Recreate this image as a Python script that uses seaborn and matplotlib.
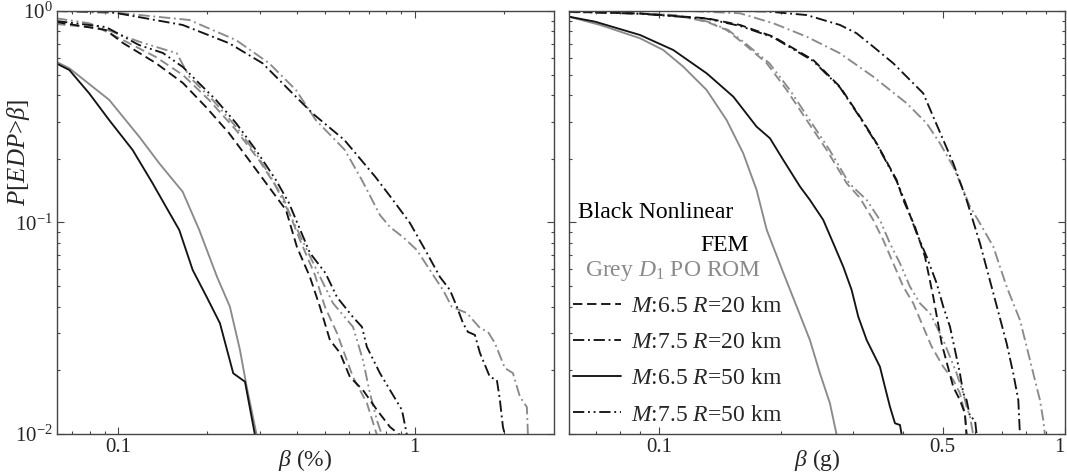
import matplotlib
matplotlib.use("Agg")
import matplotlib.pyplot as plt
import seaborn as sns
from matplotlib.lines import Line2D
from matplotlib.ticker import LogLocator, NullFormatter, FixedLocator, FixedFormatter

# ---------------- data: left panel, beta in % ----------------
L_M65R20_FEM_x = [0.0617, 0.0909, 0.1037, 0.1340, 0.1653, 0.1976, 0.2362, 0.2760, 0.3223, 0.3679, 0.4006, 0.4431, 0.4790, 0.5176, 0.5595, 0.6045, 0.6687, 0.7456, 0.8249, 0.8915]
L_M65R20_FEM_y = [0.887, 0.813, 0.706, 0.567, 0.4565, 0.3516, 0.265, 0.1975, 0.1472, 0.1146, 0.0766, 0.0553, 0.0399, 0.0278, 0.0242, 0.0186, 0.01614, 0.0130, 0.0108, 0.0099]
L_M65R20_ROM_x = [0.0617, 0.0861, 0.1037, 0.1340, 0.1653, 0.2023, 0.2495, 0.2982, 0.3593, 0.4101, 0.4606, 0.4980, 0.5467, 0.6191, 0.6898, 0.7456]
L_M65R20_ROM_y = [0.868, 0.831, 0.729, 0.606, 0.498, 0.380, 0.2738, 0.1975, 0.132, 0.0827, 0.0565, 0.0399, 0.0300, 0.0186, 0.0140, 0.0099]
L_M75R20_FEM_x = [0.0617, 0.0932, 0.1649, 0.2367, 0.3069, 0.3773, 0.4523, 0.5790, 0.7358, 0.8443, 0.9634, 1.099, 1.216, 1.314, 1.388, 1.454, 1.511, 1.596, 1.659, 1.793, 1.893, 1.938, 1.984, 2.015]
L_M75R20_FEM_y = [1.0, 0.992, 0.859, 0.704, 0.566, 0.423, 0.328, 0.2456, 0.1646, 0.1278, 0.0995, 0.0718, 0.0553, 0.048, 0.0399, 0.0335, 0.0304, 0.0294, 0.0242, 0.0186, 0.0180, 0.01448, 0.0108, 0.0099]
L_M75R20_ROM_x = [0.0617, 0.1035, 0.1736, 0.2495, 0.3230, 0.3975, 0.4639, 0.5811, 0.6632, 0.7631, 0.8249, 0.9125, 1.017, 1.125, 1.245, 1.335, 1.500, 1.659, 1.766, 1.864, 2.015, 2.144, 2.264, 2.390, 2.409]
L_M75R20_ROM_y = [1.0, 0.975, 0.907, 0.729, 0.566, 0.423, 0.305, 0.2203, 0.1589, 0.1085, 0.0952, 0.0854, 0.0741, 0.0596, 0.048, 0.0399, 0.0373, 0.0317, 0.0304, 0.0269, 0.0205, 0.0194, 0.0150, 0.0134, 0.0099]
L_M65R50_FEM_x = [0.0617, 0.0684, 0.0798, 0.0932, 0.1118, 0.1306, 0.1448, 0.1606, 0.1783, 0.1985, 0.2203, 0.2443, 0.2676, 0.2891]
L_M65R50_FEM_y = [0.566, 0.526, 0.408, 0.305, 0.2203, 0.1532, 0.1188, 0.0922, 0.0596, 0.0446, 0.0334, 0.01936, 0.01767, 0.0099]
L_M65R50_ROM_x = [0.0617, 0.0684, 0.0932, 0.1177, 0.1375, 0.1649, 0.1876, 0.2153, 0.2380, 0.2573, 0.2711, 0.2930]
L_M65R50_ROM_y = [0.576, 0.536, 0.380, 0.2544, 0.1905, 0.1398, 0.0922, 0.0554, 0.0400, 0.0250, 0.01674, 0.0099]
L_M75R50_FEM_x = [0.0617, 0.0909, 0.1174, 0.1415, 0.1653, 0.1871, 0.2135, 0.2495, 0.2912, 0.3402, 0.3764, 0.4431, 0.4998, 0.5467, 0.6191, 0.6637, 0.6898, 0.7631, 0.8443, 0.9054, 0.9412]
L_M75R50_FEM_y = [0.897, 0.840, 0.691, 0.633, 0.543, 0.4565, 0.380, 0.2954, 0.2203, 0.1589, 0.1237, 0.0718, 0.0577, 0.0444, 0.0357, 0.0321, 0.0258, 0.0194, 0.0153, 0.0130, 0.0099]
L_M75R50_ROM_x = [0.0617, 0.0798, 0.1177, 0.1576, 0.1736, 0.2082, 0.2495, 0.2912, 0.3317, 0.3975, 0.4329, 0.5297, 0.6191, 0.6687, 0.7062, 0.7456, 0.7750]
L_M75R50_ROM_y = [0.924, 0.875, 0.716, 0.631, 0.489, 0.380, 0.2838, 0.2124, 0.1589, 0.0955, 0.0741, 0.0416, 0.0321, 0.0224, 0.0156, 0.0116, 0.0099]

# ---------------- data: right panel, beta in g ----------------
R_M65R20_FEM_x = [0.0600, 0.0898, 0.1310, 0.1583, 0.1912, 0.2398, 0.2790, 0.3125, 0.3436, 0.3848, 0.3996, 0.4270, 0.4519, 0.4736, 0.4968, 0.5306, 0.5509, 0.5667, 0.5722]
R_M65R20_FEM_y = [0.995, 0.973, 0.924, 0.859, 0.756, 0.5866, 0.4385, 0.3164, 0.2368, 0.1589, 0.1278, 0.0955, 0.0689, 0.0446, 0.0268, 0.0167, 0.01448, 0.01253, 0.0099]
R_M75R50_FEM_x = [0.0600, 0.0898, 0.1310, 0.1583, 0.1912, 0.2398, 0.2790, 0.3125, 0.3436, 0.3848, 0.4040, 0.4311, 0.4563, 0.4829, 0.5013, 0.5207, 0.5356, 0.5509, 0.5616, 0.5722, 0.5834, 0.6002, 0.6060]
R_M75R50_FEM_y = [0.995, 0.970, 0.920, 0.850, 0.750, 0.580, 0.435, 0.314, 0.235, 0.157, 0.125, 0.0889, 0.0689, 0.0516, 0.0400, 0.0322, 0.0250, 0.01936, 0.01558, 0.01448, 0.01208, 0.01165, 0.0099]
R_M65R20_ROM_x = [0.0600, 0.0898, 0.1084, 0.1310, 0.1467, 0.1612, 0.1842, 0.2063, 0.2310, 0.2588, 0.2899, 0.3125, 0.3370, 0.3566, 0.3776, 0.3996, 0.4229, 0.4435, 0.4693, 0.5013, 0.5306, 0.5509, 0.5667, 0.5722]
R_M65R20_ROM_y = [0.989, 0.973, 0.957, 0.890, 0.813, 0.704, 0.566, 0.423, 0.305, 0.2203, 0.1532, 0.1306, 0.1028, 0.0827, 0.0641, 0.0497, 0.0415, 0.0334, 0.0259, 0.0208, 0.0180, 0.01558, 0.01253, 0.0099]
R_M75R50_ROM_x = [0.0600, 0.0898, 0.1090, 0.1320, 0.1480, 0.1630, 0.1870, 0.2100, 0.2350, 0.2630, 0.2940, 0.3247, 0.3500, 0.3705, 0.3922, 0.4151, 0.4392, 0.4649, 0.4829, 0.5013, 0.5207, 0.5408, 0.5616, 0.5722, 0.5834, 0.5943]
R_M75R50_ROM_y = [0.989, 0.973, 0.957, 0.890, 0.813, 0.704, 0.566, 0.423, 0.305, 0.2203, 0.1532, 0.1278, 0.1028, 0.0797, 0.0641, 0.0497, 0.0415, 0.0372, 0.0322, 0.0278, 0.0232, 0.01936, 0.01558, 0.01346, 0.01208, 0.0099]
R_M75R20_FEM_x = [0.0600, 0.1583, 0.1841, 0.2310, 0.2790, 0.3067, 0.3370, 0.3776, 0.4311, 0.4476, 0.4736, 0.5013, 0.5306, 0.5722, 0.6174, 0.6659, 0.7183, 0.7456, 0.7673, 0.7745]
R_M75R20_FEM_y = [1.0, 1.0, 0.995, 0.957, 0.859, 0.7845, 0.678, 0.566, 0.4385, 0.408, 0.3164, 0.2456, 0.1905, 0.1278, 0.0797, 0.0463, 0.0268, 0.01936, 0.01448, 0.0099]
R_M75R20_ROM_x = [0.0600, 0.1192, 0.1583, 0.1912, 0.2310, 0.2790, 0.3370, 0.4074, 0.4563, 0.4920, 0.5306, 0.5616, 0.5834, 0.6174, 0.6659, 0.6915, 0.7183, 0.7456, 0.7745, 0.8045, 0.8352, 0.8675, 0.8839, 0.8925]
R_M75R20_ROM_y = [1.0, 1.0, 0.975, 0.875, 0.756, 0.631, 0.489, 0.3662, 0.2944, 0.2368, 0.1835, 0.1424, 0.1188, 0.0991, 0.0768, 0.0618, 0.0497, 0.0415, 0.0346, 0.0259, 0.01936, 0.01448, 0.01165, 0.0099]
R_M65R50_FEM_x = [0.0600, 0.0696, 0.0898, 0.1084, 0.1310, 0.1524, 0.1739, 0.1876, 0.2023, 0.2225, 0.2353, 0.2538, 0.2687, 0.2843, 0.2981, 0.3095, 0.3247, 0.3500, 0.3601, 0.3705, 0.3812, 0.3922, 0.3960]
R_M65R50_FEM_y = [0.940, 0.890, 0.770, 0.654, 0.5074, 0.3934, 0.2838, 0.2501, 0.1975, 0.1477, 0.1278, 0.1028, 0.0797, 0.0618, 0.0480, 0.0359, 0.0278, 0.0208, 0.0167, 0.01346, 0.01124, 0.01103, 0.0099]
R_M65R50_ROM_x = [0.0600, 0.0716, 0.0898, 0.1024, 0.1147, 0.1310, 0.1467, 0.1612, 0.1739, 0.1842, 0.2020, 0.2225, 0.2353, 0.2490, 0.2636, 0.2738]
R_M65R50_ROM_y = [0.940, 0.859, 0.743, 0.654, 0.5454, 0.423, 0.305, 0.2124, 0.1424, 0.0922, 0.0583, 0.0365, 0.0278, 0.0194, 0.01397, 0.0099]

legend_labels = [r"$M$:6.5 $R$=20 km", r"$M$:7.5 $R$=20 km",
                 r"$M$:6.5 $R$=50 km", r"$M$:7.5 $R$=50 km"]
left_xticks = [0.1, 1]
left_xticklabels = ["0.1", "1"]
right_xticks = [0.1, 0.5, 1]
right_xticklabels = ["0.1", "0.5", "1"]

# ---------------- style ----------------
sns.set_style("ticks")
plt.rcParams["font.family"] = ["Liberation Serif", "DejaVu Serif"]
plt.rcParams["mathtext.fontset"] = "custom"
plt.rcParams["mathtext.rm"] = "Liberation Serif"
plt.rcParams["mathtext.it"] = "Liberation Serif:italic"
plt.rcParams["mathtext.bf"] = "Liberation Serif:bold"

BLACK = "#141414"
GREY = "#8a8a8a"
SPINE = "#454545"
LW = 1.35
LS = {"M65R20": (0, (5, 2.5)),
      "M75R20": (0, (6, 2, 1, 2)),
      "M65R50": "-",
      "M75R50": (0, (6, 2, 1, 2, 1, 2))}

W, H = 1067, 473
fig = plt.figure(figsize=(W / 100, H / 100), dpi=100)
axL = fig.add_axes([56.7 / W, 39 / H, 497.3 / W, 423 / H])
axR = fig.add_axes([569 / W, 39 / H, 496 / W, 423 / H])


def draw(ax, x, y, color, ls):
    sns.lineplot(x=x, y=y, ax=ax, color=color, linestyle=ls, linewidth=LW,
                 sort=False, estimator=None, errorbar=None)


left_curves = [
    (L_M65R20_ROM_x, L_M65R20_ROM_y, GREY, LS["M65R20"]),
    (L_M75R20_ROM_x, L_M75R20_ROM_y, GREY, LS["M75R20"]),
    (L_M65R50_ROM_x, L_M65R50_ROM_y, GREY, LS["M65R50"]),
    (L_M75R50_ROM_x, L_M75R50_ROM_y, GREY, LS["M75R50"]),
    (L_M65R20_FEM_x, L_M65R20_FEM_y, BLACK, LS["M65R20"]),
    (L_M75R20_FEM_x, L_M75R20_FEM_y, BLACK, LS["M75R20"]),
    (L_M65R50_FEM_x, L_M65R50_FEM_y, BLACK, LS["M65R50"]),
    (L_M75R50_FEM_x, L_M75R50_FEM_y, BLACK, LS["M75R50"]),
]
right_curves = [
    (R_M65R20_ROM_x, R_M65R20_ROM_y, GREY, LS["M65R20"]),
    (R_M75R20_ROM_x, R_M75R20_ROM_y, GREY, LS["M75R20"]),
    (R_M65R50_ROM_x, R_M65R50_ROM_y, GREY, LS["M65R50"]),
    (R_M75R50_ROM_x, R_M75R50_ROM_y, GREY, LS["M75R50"]),
    (R_M65R20_FEM_x, R_M65R20_FEM_y, BLACK, LS["M65R20"]),
    (R_M75R20_FEM_x, R_M75R20_FEM_y, BLACK, LS["M75R20"]),
    (R_M65R50_FEM_x, R_M65R50_FEM_y, BLACK, LS["M65R50"]),
    (R_M75R50_FEM_x, R_M75R50_FEM_y, BLACK, LS["M75R50"]),
]
for c in left_curves:
    draw(axL, *c)
for c in right_curves:
    draw(axR, *c)

for ax in (axL, axR):
    ax.set_xscale("log")
    ax.set_yscale("log")
    ax.set_ylim(0.01, 1)
    ax.yaxis.set_major_locator(FixedLocator([0.01, 0.1, 1]))
    ax.yaxis.set_minor_locator(LogLocator(base=10, subs=range(2, 10)))
    ax.yaxis.set_minor_formatter(NullFormatter())
    ax.xaxis.set_minor_locator(LogLocator(base=10, subs=range(2, 10)))
    ax.xaxis.set_minor_formatter(NullFormatter())
    for s in ax.spines.values():
        s.set_color(SPINE)
        s.set_linewidth(1.0)
    ax.tick_params(which="both", direction="in", top=True, right=True,
                   color=SPINE, width=0.8, labelsize=15, pad=3)
    ax.tick_params(which="major", length=5)
    ax.tick_params(which="minor", length=2.5)
    ax.set_facecolor("white")

axL.set_xlim(0.062, 2.95)
axL.xaxis.set_major_locator(FixedLocator(left_xticks))
axL.xaxis.set_major_formatter(FixedFormatter(left_xticklabels))
axL.yaxis.set_major_formatter(FixedFormatter([r"$10^{-2}$", r"$10^{-1}$", r"$10^{0}$"]))

axR.set_xlim(0.06, 1)
axR.xaxis.set_major_locator(FixedLocator(right_xticks))
axR.xaxis.set_major_formatter(FixedFormatter(right_xticklabels))
axR.tick_params(axis="y", labelleft=False)
# keep the last label ("1") inside the figure edge
fig.canvas.draw()
axR.get_xticklabels()[-1].set_horizontalalignment("right")

axL.set_xlabel(r"$\beta$ (%)", fontsize=17)
axL.xaxis.set_label_coords(0.5, -0.03)
axR.set_xlabel(r"$\beta$ (g)", fontsize=17)
axR.xaxis.set_label_coords(0.5, -0.03)
axL.set_ylabel(r"$P$[$EDP$>$\beta$]", fontsize=18)
axL.yaxis.set_label_coords(-0.05, 0.667)
axR.set_ylabel("")

# legend-like annotations in right panel
axR.text(0.018, 0.523, "Black Nonlinear", transform=axR.transAxes,
         fontsize=17, ha="left", va="center", color="black")
axR.text(0.363, 0.445, "FEM", transform=axR.transAxes,
         fontsize=17, ha="right", va="center", color="black")
axR.text(0.032, 0.386, r"Grey $D_1$ PO ROM", transform=axR.transAxes,
         fontsize=17, ha="left", va="center", color=GREY)

handles = [Line2D([], [], color=BLACK, linestyle=LS[k], linewidth=LW)
           for k in ("M65R20", "M75R20", "M65R50", "M75R50")]
axR.legend(handles, legend_labels, loc="lower left", bbox_to_anchor=(0.008, 0.02),
           frameon=False, fontsize=17, handlelength=2.05, handletextpad=0.4,
           labelspacing=0.62, borderpad=0, borderaxespad=0)

fig.savefig("out.png", dpi=100, facecolor="white")
